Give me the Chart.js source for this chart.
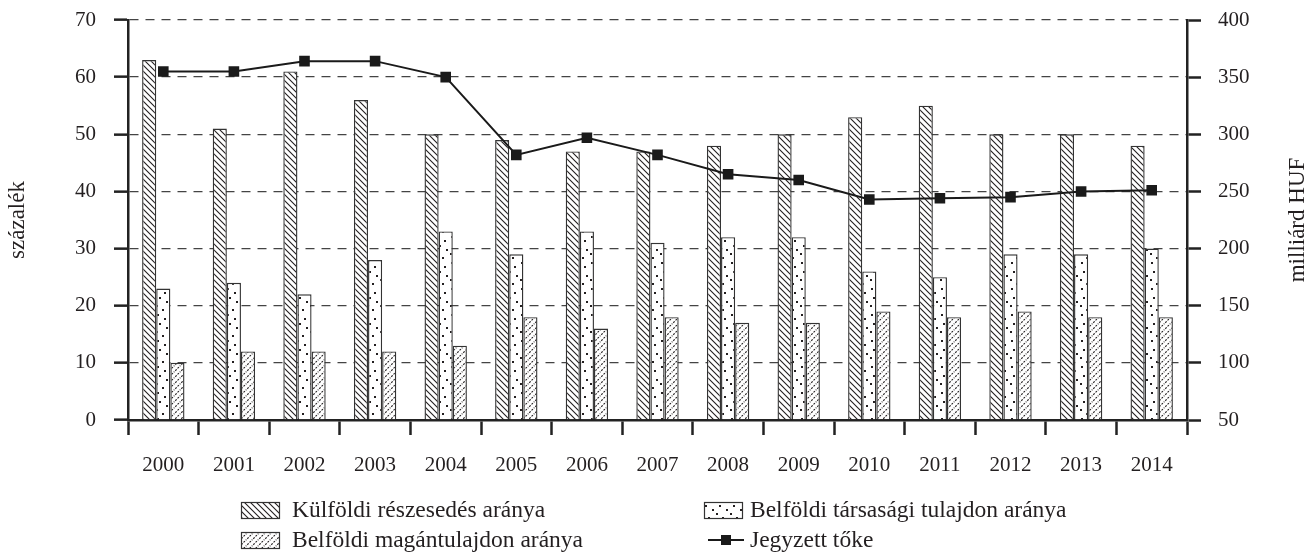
<!DOCTYPE html>
<html>
<head>
<meta charset="utf-8">
<script src="https://cdn.jsdelivr.net/npm/chart.js@4.4.1/dist/chart.umd.min.js"></script>
<style>
  html, body { margin: 0; padding: 0; background: #fff; }
  #chart { display: block; }
</style>
</head>
<body>
<canvas id="chart" width="1315" height="552"></canvas>
<script>
// Data
const years = ["2000", "2001", "2002", "2003", "2004", "2005", "2006", "2007",
  "2008", "2009", "2010", "2011", "2012", "2013", "2014"];
const kulfoldi = [63, 51, 61, 56, 50, 49, 47, 47, 48, 50, 53, 55, 50, 50, 48];
const tarsasagi = [23, 24, 22, 28, 33, 29, 33, 31, 32, 32, 26, 25, 29, 29, 30];
const magan = [10, 12, 12, 12, 13, 18, 16, 18, 17, 17, 19, 18, 19, 18, 18];
const jegyzettToke = [355, 355, 364, 364, 350, 282, 297, 282, 265, 260, 243, 244, 245, 250, 251];

const leftTicks = [0, 10, 20, 30, 40, 50, 60, 70];
const rightTicks = [50, 100, 150, 200, 250, 300, 350, 400];

const INK = "#231f20";
const FONT = "Liberation Serif";

// --- fill patterns for the bars ---
function makePattern(size, drawFn) {
  const c = document.createElement("canvas");
  c.width = size[0];
  c.height = size[1];
  const g = c.getContext("2d");
  g.fillStyle = "#fff";
  g.fillRect(0, 0, c.width, c.height);
  g.strokeStyle = INK;
  g.fillStyle = INK;
  drawFn(g, c.width, c.height);
  return g.createPattern(c, "repeat");
}

const ctx = document.getElementById("chart").getContext("2d");

// "\\\" hatch
const backHatch = makePattern([6, 6], (g, w, h) => {
  g.lineWidth = 1.1;
  g.beginPath();
  g.moveTo(-1, -1); g.lineTo(w + 1, h + 1);
  g.moveTo(-1, h - 1); g.lineTo(1, h + 1);
  g.moveTo(w - 1, -1); g.lineTo(w + 1, 1);
  g.stroke();
});

// sparse dots
const dots = makePattern([14, 26], (g) => {
  const pts = [[3, 2], [10, 6], [5, 11], [12, 15], [2, 19], [8, 23]];
  pts.forEach(([x, y]) => g.fillRect(x, y, 2, 2));
});

// "///" broken hatch
const fwdHatch = makePattern([6, 6], (g, w, h) => {
  g.lineWidth = 1.1;
  g.setLineDash([2, 1.2]);
  g.beginPath();
  g.moveTo(-1, h + 1); g.lineTo(w + 1, -1);
  g.moveTo(-1, 1); g.lineTo(1, -1);
  g.moveTo(w - 1, h + 1); g.lineTo(w + 1, h - 1);
  g.stroke();
});

// axis titles (right one reads bottom to top, like the left one)
const axisTitles = {
  id: "axisTitles",
  afterDraw(chart) {
    const c = chart.ctx;
    const area = chart.chartArea;
    const midY = (area.top + area.bottom) / 2;
    c.save();
    c.fillStyle = INK;
    c.font = `23px "${FONT}"`;
    c.textAlign = "center";
    c.textBaseline = "middle";
    [["százalék", 18], ["milliárd HUF", 1298]].forEach(([txt, x]) => {
      c.save();
      c.translate(x, midY);
      c.rotate(-Math.PI / 2);
      c.fillText(txt, 0, 0);
      c.restore();
    });
    c.restore();
  },
};

// two-column legend under the axis
const gridLegend = {
  id: "gridLegend",
  afterDraw(chart) {
    const c = chart.ctx;
    const cols = [241, 704];
    const rows = [510, 540];
    const slots = [[0, 0, 0], [1, 1, 0], [2, 0, 1], [3, 1, 1]]; // dataset, col, row
    c.save();
    c.font = `23.5px "${FONT}"`;
    c.textBaseline = "middle";
    c.fillStyle = INK;
    slots.forEach(([i, col, row]) => {
      const ds = chart.data.datasets[i];
      const x = cols[col];
      const y = rows[row];
      if (ds.type === "line") {
        c.strokeStyle = ds.borderColor;
        c.lineWidth = 2;
        c.beginPath();
        c.moveTo(x + 4, y); c.lineTo(x + 40, y);
        c.stroke();
        c.fillStyle = ds.borderColor;
        c.fillRect(x + 17, y - 5, 10, 10);
      } else {
        c.fillStyle = ds.backgroundColor;
        c.fillRect(x, y - 8, 39, 17);
        c.strokeStyle = "#333";
        c.lineWidth = 1.2;
        c.strokeRect(x + 0.5, y - 8 + 0.5, 38, 16);
      }
      c.fillStyle = INK;
      c.fillText(ds.label, x + (col === 0 ? 51 : 46), y + 1);
    });
    c.restore();
  },
};

const barCommon = {
  type: "bar",
  yAxisID: "y",
  borderColor: "#333",
  borderWidth: 1.4,
  categoryPercentage: 0.6,
  barPercentage: 1.0,
  order: 1,
};

// fixed-size vertical axes, no extra room for the first/last label
function fixVertical(scale) {
  scale.width = 128;
  scale.paddingTop = 0;
  scale.paddingBottom = 0;
}

new Chart(ctx, {
  data: {
    labels: years,
    datasets: [
      { ...barCommon, label: "Külföldi részesedés aránya", data: kulfoldi, backgroundColor: backHatch },
      { ...barCommon, label: "Belföldi társasági tulajdon aránya", data: tarsasagi, backgroundColor: dots },
      { ...barCommon, label: "Belföldi magántulajdon aránya", data: magan, backgroundColor: fwdHatch },
      {
        type: "line",
        label: "Jegyzett tőke",
        data: jegyzettToke,
        yAxisID: "y1",
        borderColor: "#1a1a1a",
        borderWidth: 2,
        pointStyle: "rect",
        pointRadius: 7.5,
        pointHoverRadius: 7.5,
        pointBackgroundColor: "#1a1a1a",
        pointBorderWidth: 0,
        tension: 0,
        order: 0,
      },
    ],
  },
  options: {
    responsive: false,
    devicePixelRatio: 1,
    animation: false,
    layout: { padding: { top: 20, left: 0, right: 0, bottom: 0 } },
    plugins: {
      legend: { display: false },
      tooltip: { enabled: false },
    },
    scales: {
      x: {
        offset: true,
        grid: {
          display: true,
          offset: true,
          drawOnChartArea: false,
          drawTicks: true,
          tickLength: 15,
          tickColor: "#222",
          tickWidth: 2.5,
        },
        border: { display: true, color: "#222", width: 2.5 },
        ticks: {
          color: INK,
          font: { family: FONT, size: 21 },
          padding: 18,
          maxRotation: 0,
        },
        afterFit: (scale) => {
          scale.height = 132;
          scale.paddingLeft = 0;
          scale.paddingRight = 0;
        },
      },
      y: {
        position: "left",
        min: leftTicks[0],
        max: leftTicks[leftTicks.length - 1],
        afterBuildTicks: (scale) => { scale.ticks = leftTicks.map((v) => ({ value: v })); },
        grid: {
          color: "#444",
          lineWidth: 1.3,
          drawTicks: true,
          tickLength: 14,
          tickColor: "#222",
          tickWidth: 2.5,
          tickBorderDash: [],
        },
        border: { display: true, color: "#222", width: 2.5, dash: [9, 7] },
        ticks: {
          color: INK,
          font: { family: FONT, size: 21 },
          padding: 18,
        },
        afterFit: fixVertical,
      },
      y1: {
        position: "right",
        min: rightTicks[0],
        max: rightTicks[rightTicks.length - 1],
        afterBuildTicks: (scale) => { scale.ticks = rightTicks.map((v) => ({ value: v })); },
        grid: {
          drawOnChartArea: false,
          drawTicks: true,
          tickLength: 14,
          tickColor: "#222",
          tickWidth: 2.5,
          tickBorderDash: [],
        },
        border: { display: true, color: "#222", width: 2.5 },
        ticks: {
          color: INK,
          font: { family: FONT, size: 21 },
          padding: 17,
        },
        afterFit: fixVertical,
      },
    },
  },
  plugins: [axisTitles, gridLegend],
});
</script>
</body>
</html>
